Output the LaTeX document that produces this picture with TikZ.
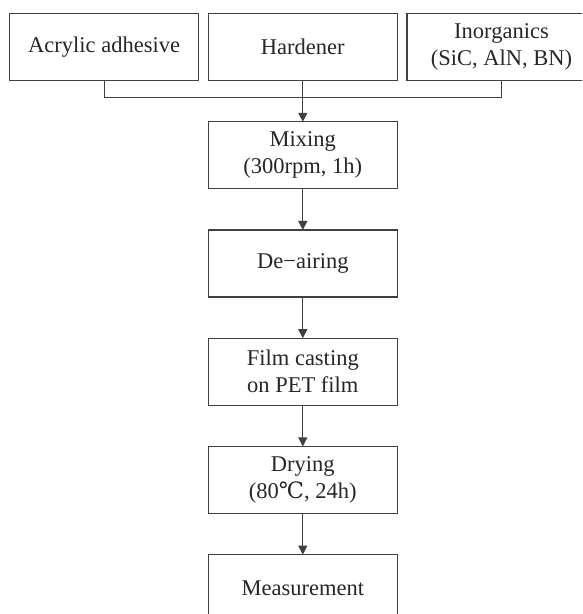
\documentclass[tikz,border=0pt]{standalone}
\usepackage{fontspec}
\setmainfont{Liberation Serif}
\newfontfamily\celsiusfont{DejaVu Serif}
\usetikzlibrary{matrix}
\usetikzlibrary{positioning}
\usetikzlibrary{arrows.meta}
\newcommand{\degC}{{\celsiusfont ℃}}

\begin{document}
\begin{tikzpicture}[>={Triangle[length=4.5pt,width=4.5pt]},
        line width=0.6pt,
        stepbox/.style={draw=black!75, minimum width=94.5pt, minimum height=33.5pt,
                inner sep=0pt, align=center, anchor=center, text=black!85,
                font=\fontsize{11.25}{13.5}\selectfont}]
        \clip (-4.5pt,6.5pt) rectangle ++(291pt,-307pt);
        \matrix (m) [column sep={4.25pt}, row sep={20pt},
                inner sep=0pt, outer sep=0pt, anchor=north west] at (0,0)
        {
                \node[stepbox] (acrylic) {Acrylic adhesive}; &
                \node[stepbox] (hardener) {Hardener}; &
                \node[stepbox] (inorg) {Inorganics\\(SiC, AlN, BN)}; \\
                & \node[stepbox] (mixing) {Mixing\\(300rpm, 1h)}; & \\
                & \node[stepbox] (deair) {De−airing}; & \\
                & \node[stepbox] (casting) {Film casting\\on PET film}; & \\
                & \node[stepbox] (drying) {Drying\\(80\degC, 24h)}; & \\
                & \node[stepbox] (measure) {Measurement}; & \\
        };
        \coordinate[below=8.5pt of hardener.south] (join);
        \draw[black!75] (acrylic.south) |- (join) -| (inorg.south);
        \draw[->,black!75] (hardener) -- (mixing);
        \foreach \a/\b in {mixing/deair, deair/casting, casting/drying, drying/measure}
                \draw[->,black!75] (\a) -- (\b);
\end{tikzpicture}
\end{document}
